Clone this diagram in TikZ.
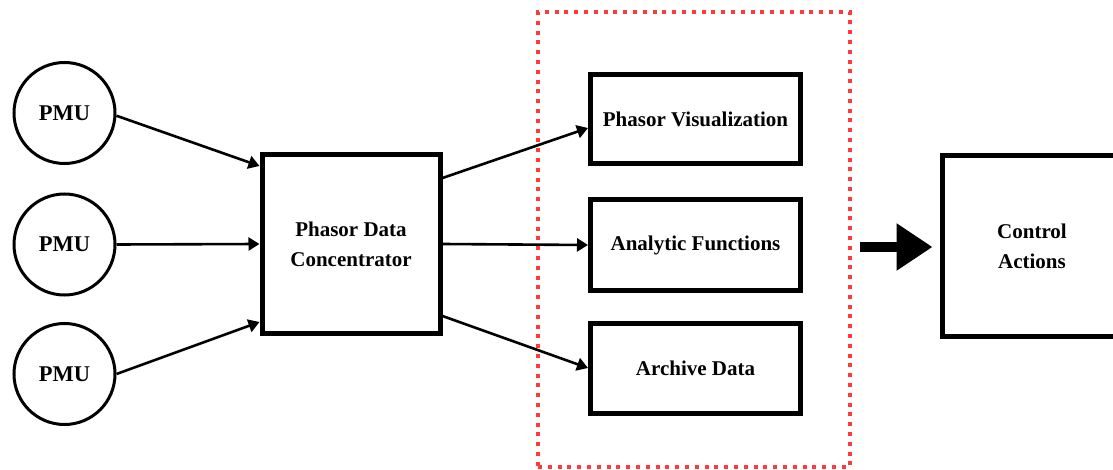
\documentclass[tikz,border=0pt]{standalone}
\usepackage{fontspec}
\setmainfont{Liberation Serif}
\usetikzlibrary{arrows.meta}
\definecolor{groupred}{RGB}{255,58,58}
\begin{document}
\begin{tikzpicture}[x=1pt,y=-1pt,
  every node/.style={font=\fontsize{21}{30}\selectfont\bfseries, align=center, inner sep=0pt},
  pmu/.style={draw, circle, line width=3pt, minimum size=101pt, font=\fontsize{22.5}{30}\selectfont\bfseries},
  block/.style={draw, rectangle, line width=5pt},
  flow/.style={line width=2.6pt, -{Triangle[length=11pt,width=13pt]}},
  group/.style={draw=groupred, line width=4pt, dash pattern=on 4pt off 5.8pt, minimum width=312pt, minimum height=455pt},
  bigflow/.style={line width=10pt, -{Triangle[length=36pt,width=45pt]}}
]
\useasboundingbox (0,0) rectangle (1113,470);

% measurement units
\node[pmu] (pmu1) at (64.5,113) {PMU};
\node[pmu] (pmu2) at (64.5,244.5) {PMU};
\node[pmu] (pmu3) at (64.5,374) {PMU};

% concentrator
\node[block, minimum width=178pt, minimum height=178pt] (pdc) at (351,244) {Phasor Data\\Concentrator};

% applications
\node[block, minimum width=210pt, minimum height=89pt] (pv) at (695.5,119) {\raisebox{-2pt}{Phasor Visualization}};
\node[block, minimum width=210pt, minimum height=90pt] (af) at (695.5,245) {Analytic Functions};
\node[block, minimum width=210pt, minimum height=90pt] (ad) at (695.5,368) {Archive Data};

% grouping frame
\node[group] (grp) at (694,239.5) {};

% control
\node[block, minimum width=180pt, minimum height=181pt] (ca) at (1032,246) {Control\\Actions};

% connectors
\draw[flow] (pmu1.-3) -- (pdc.west |- 0,166);
\draw[flow] (pmu2.east) -- (pdc.west);
\draw[flow] (pmu3.east) -- (pdc.west |- 0,322);

\draw[flow] (pdc.east |- 0,178) -- (pv.west |- 0,128);
\draw[flow] (pdc.east) -- (af.west);
\draw[flow] (pdc.east |- 0,316) -- (ad.west |- 0,368);

\draw[bigflow, shorten <=8pt, shorten >=7pt] (grp.east |- 0,247) -- (ca.west |- 0,247);
\end{tikzpicture}
\end{document}
